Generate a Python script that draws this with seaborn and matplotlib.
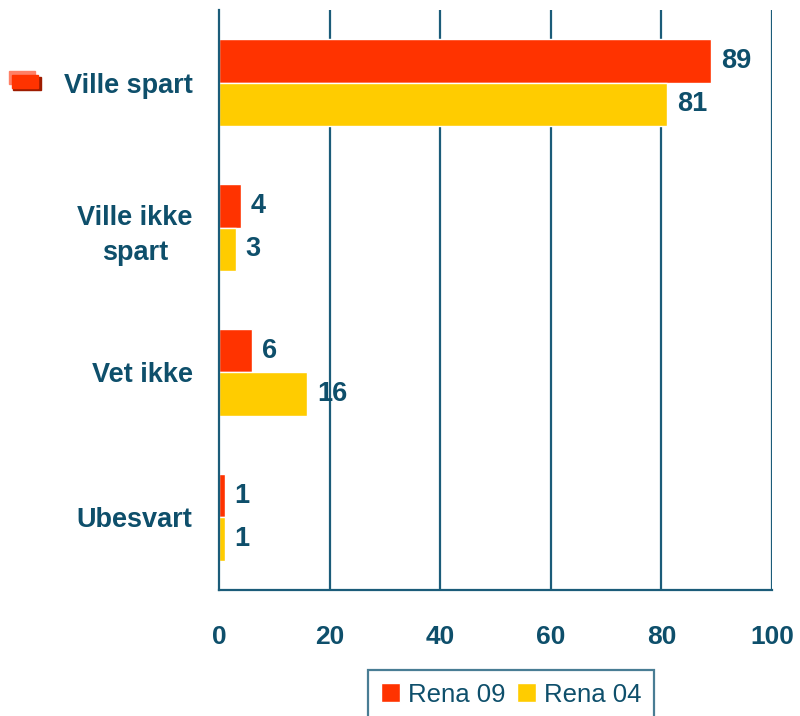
import matplotlib
matplotlib.use("Agg")
import matplotlib.pyplot as plt
import matplotlib.patches as mpatches
import pandas as pd
import seaborn as sns

# data
categories = ["Ville spart", "Ville ikke\nspart", "Vet ikke", "Ubesvart"]
series = ["Rena 09", "Rena 04"]
rena_09 = [89, 4, 6, 1]
rena_04 = [81, 3, 16, 1]
x_ticks = [0, 20, 40, 60, 80, 100]

TEAL = "#0E4F6B"
LINE = "#1B5C79"
colors = ["#FF3300", "#FFCC00"]

df = pd.DataFrame({
    "kategori": categories * 2,
    "serie": [series[0]] * len(categories) + [series[1]] * len(categories),
    "verdi": rena_09 + rena_04,
})

sns.set_style("white")
plt.rcParams["font.family"] = ["Liberation Sans", "DejaVu Sans"]

fig = plt.figure(figsize=(8, 7.16), dpi=100)
ax = fig.add_axes([0.27375, 0.176, 0.69125, 0.81])

sns.barplot(data=df, x="verdi", y="kategori", hue="serie", orient="h",
            palette=colors, width=0.6, ax=ax, saturation=1, legend=True)

# verdier ved siden av stolpene
for cont in ax.containers:
    ax.bar_label(cont, padding=7, fontsize=19.5, fontweight="bold", color=TEAL)

ax.set_xlim(0, 100)
ax.set_ylim(len(categories) - 0.5, -0.5)
ax.set_xticks(x_ticks)
ax.set_xlabel("")
ax.set_ylabel("")

# rutenett
for v in x_ticks[1:]:
    ax.axvline(v, color=LINE, lw=1.6, zorder=0)

for s in ["top", "right"]:
    ax.spines[s].set_visible(False)
for s in ["left", "bottom"]:
    ax.spines[s].set_color(LINE)
    ax.spines[s].set_linewidth(1.6)

ax.tick_params(axis="x", direction="out", length=6, width=1.4, color=LINE,
               pad=19, labelsize=19, labelcolor=TEAL)
for t in ax.get_xticklabels():
    t.set_fontweight("bold")

# kategorier uten tick-streker, separatorer som minor ticks
ax.set_yticks(range(len(categories)))
ax.set_yticklabels(categories, fontsize=19.5, fontweight="bold", color=TEAL,
                   multialignment="center", linespacing=1.45)
ax.tick_params(axis="y", which="major", length=0, pad=19)
ax.set_yticks([i - 0.5 for i in range(len(categories) + 1)], minor=True)
ax.tick_params(axis="y", which="minor", direction="out", length=8,
               width=1.4, color=LINE)

leg = ax.legend(loc="upper center", bbox_to_anchor=(0.528, -0.138), ncol=2,
                frameon=True, fancybox=False, fontsize=18.5, handlelength=0.75,
                handleheight=0.75, handletextpad=0.3, columnspacing=0.45,
                borderpad=0.5, borderaxespad=0)
leg.get_frame().set_edgecolor(LINE)
leg.get_frame().set_linewidth(1.6)
for t in leg.get_texts():
    t.set_color(TEAL)

# lite dekorativt ikon ved "Ville spart"
fig.patches.append(mpatches.Rectangle((0.016, 0.8743), 0.035, 0.018,
                                      transform=fig.transFigure, color="#9E1C00"))
fig.patches.append(mpatches.Rectangle((0.01125, 0.8827), 0.0325, 0.018,
                                      transform=fig.transFigure, color="#FF8066"))
fig.patches.append(mpatches.Rectangle((0.015, 0.877), 0.0325, 0.018,
                                      transform=fig.transFigure, color="#FF3300"))

fig.savefig("out.png", dpi=100)
